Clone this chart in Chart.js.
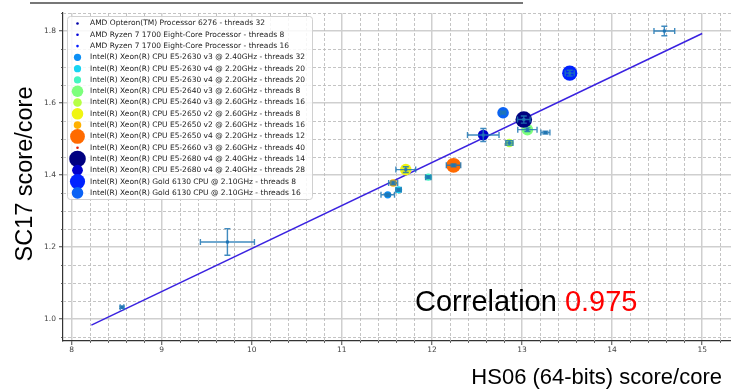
<!DOCTYPE html>
<html>
<head>
<meta charset="utf-8">
<script src="https://cdn.jsdelivr.net/npm/chart.js@4.4.1/dist/chart.umd.min.js"></script>
<style>
  html, body { margin: 0; padding: 0; background: #fff; }
  #wrap { width: 731px; height: 391px; position: relative; }
</style>
</head>
<body>
<div id="wrap"><canvas id="corrChart"></canvas></div>
<script>
// CPU models, in legend order
const cpuLabels = [
    "AMD Opteron(TM) Processor 6276 - threads 32",
    "AMD Ryzen 7 1700 Eight-Core Processor - threads 8",
    "AMD Ryzen 7 1700 Eight-Core Processor - threads 16",
    "Intel(R) Xeon(R) CPU E5-2630 v3 @ 2.40GHz - threads 32",
    "Intel(R) Xeon(R) CPU E5-2630 v4 @ 2.20GHz - threads 20",
    "Intel(R) Xeon(R) CPU E5-2630 v4 @ 2.20GHz - threads 20",
    "Intel(R) Xeon(R) CPU E5-2640 v3 @ 2.60GHz - threads 8",
    "Intel(R) Xeon(R) CPU E5-2640 v3 @ 2.60GHz - threads 16",
    "Intel(R) Xeon(R) CPU E5-2650 v2 @ 2.60GHz - threads 8",
    "Intel(R) Xeon(R) CPU E5-2650 v2 @ 2.60GHz - threads 16",
    "Intel(R) Xeon(R) CPU E5-2650 v4 @ 2.20GHz - threads 12",
    "Intel(R) Xeon(R) CPU E5-2660 v3 @ 2.60GHz - threads 40",
    "Intel(R) Xeon(R) CPU E5-2680 v4 @ 2.40GHz - threads 14",
    "Intel(R) Xeon(R) CPU E5-2680 v4 @ 2.40GHz - threads 28",
    "Intel(R) Xeon(R) Gold 6130 CPU @ 2.10GHz - threads 8",
    "Intel(R) Xeon(R) Gold 6130 CPU @ 2.10GHz - threads 16"
];
const hs06PerCore = [8.56, 14.58, 9.73, 11.51, 11.63, 11.96, 13.06, 12.86, 11.71, 11.57, 12.24, 13.26, 13.02, 12.57, 13.53, 12.79];
const sc17PerCore = [1.033, 1.800, 1.214, 1.345, 1.359, 1.394, 1.526, 1.489, 1.415, 1.378, 1.427, 1.518, 1.554, 1.511, 1.683, 1.573];
const hs06Err = [0.02, 0.115, 0.30, 0.075, 0.03, 0.03, 0.107, 0.04, 0.11, 0.05, 0.08, 0.05, 0.07, 0.175, 0.05, 0.03];
const sc17Err = [0.003, 0.013, 0.037, 0.004, 0.004, 0.004, 0.005, 0.006, 0.008, 0.005, 0.004, 0.004, 0.01, 0.018, 0.008, 0.004];
const markerRadius = [1.3, 1.3, 1.3, 3.6, 3.6, 3.6, 5.8, 4.3, 5.8, 3.8, 7.4, 1.3, 8.3, 5.4, 7.6, 5.8];
const markerColors = ['#0000a8', '#0000d8', '#0018ff', '#0c8ff5', '#16d4f2', '#44f5c0', '#7cff7c', '#b5ff45',
                      '#f0f511', '#ffb000', '#ff6a00', '#e61a00', '#000080', '#0000cc', '#0022ff', '#0a62f5'];

// fitted line end points
const fitHs06 = [8.22, 15.0];
const fitSc17 = [0.983, 1.793];
const correlation = 0.975;

const xTicks = [8, 9, 10, 11, 12, 13, 14, 15];
const yTicks = [1.0, 1.2, 1.4, 1.6, 1.8];

const sans = '"Liberation Sans", Arial, sans-serif';
const dejavu = '"DejaVu Sans", sans-serif';

// dashed minor grid + minor tick marks
const minorGrid = {
    id: 'minorGrid',
    beforeDatasetsDraw(chart) {
        const { ctx, chartArea: a, scales: { x, y } } = chart;
        ctx.save();
        ctx.strokeStyle = '#bdbdbd';
        ctx.lineWidth = 0.9;
        ctx.setLineDash([3, 2]);
        for (let i = Math.ceil(x.min / 0.2); i * 0.2 <= x.max + 1e-9; i++) {
            if (i % 5 === 0) continue;
            const px = Math.round(x.getPixelForValue(i * 0.2)) + 0.5;
            ctx.beginPath(); ctx.moveTo(px, a.top); ctx.lineTo(px, a.bottom); ctx.stroke();
        }
        for (let i = Math.ceil(y.min / 0.05 - 1e-9); i * 0.05 <= y.max + 1e-9; i++) {
            if (i % 4 === 0) continue;
            const py = Math.round(y.getPixelForValue(i * 0.05)) + 0.5;
            ctx.beginPath(); ctx.moveTo(a.left, py); ctx.lineTo(a.right, py); ctx.stroke();
        }
        ctx.setLineDash([]);
        ctx.strokeStyle = '#444';
        ctx.lineWidth = 0.8;
        for (let i = Math.ceil(x.min / 0.2); i * 0.2 <= x.max + 1e-9; i++) {
            if (i % 5 === 0) continue;
            const px = Math.round(x.getPixelForValue(i * 0.2)) + 0.5;
            ctx.beginPath(); ctx.moveTo(px, a.bottom); ctx.lineTo(px, a.bottom + 2); ctx.stroke();
        }
        for (let i = Math.ceil(y.min / 0.05 - 1e-9); i * 0.05 <= y.max + 1e-9; i++) {
            if (i % 4 === 0) continue;
            const py = Math.round(y.getPixelForValue(i * 0.05)) + 0.5;
            ctx.beginPath(); ctx.moveTo(a.left, py); ctx.lineTo(a.left - 2, py); ctx.stroke();
        }
        ctx.restore();
    }
};

const errorBars = {
    id: 'errorBars',
    afterDatasetsDraw(chart) {
        const { ctx, scales: { x, y } } = chart;
        ctx.save();
        ctx.strokeStyle = 'rgba(31,119,180,0.85)';
        ctx.fillStyle = 'rgba(31,119,180,0.9)';
        ctx.lineWidth = 1.4;
        hs06PerCore.forEach((v, i) => {
            const cx = x.getPixelForValue(v), cy = y.getPixelForValue(sc17PerCore[i]);
            const x0 = x.getPixelForValue(v - hs06Err[i]), x1 = x.getPixelForValue(v + hs06Err[i]);
            const y0 = y.getPixelForValue(sc17PerCore[i] - sc17Err[i]), y1 = y.getPixelForValue(sc17PerCore[i] + sc17Err[i]);
            ctx.beginPath();
            ctx.moveTo(x0, cy); ctx.lineTo(x1, cy);
            ctx.moveTo(cx, y0); ctx.lineTo(cx, y1);
            ctx.moveTo(x0, cy - 3); ctx.lineTo(x0, cy + 3);
            ctx.moveTo(x1, cy - 3); ctx.lineTo(x1, cy + 3);
            ctx.moveTo(cx - 3, y0); ctx.lineTo(cx + 3, y0);
            ctx.moveTo(cx - 3, y1); ctx.lineTo(cx + 3, y1);
            ctx.stroke();
            ctx.fillRect(cx - 1.5, cy - 1.5, 3, 3);
        });
        ctx.restore();
    }
};

// legend box, annotation and axis titles
const decorations = {
    id: 'decorations',
    afterDraw(chart) {
        const ctx = chart.ctx;
        ctx.save();
        // remnant of the cut-off heading
        ctx.fillStyle = '#777';
        ctx.fillRect(30, 2, 493, 2);

        // legend
        ctx.fillStyle = 'rgba(255,255,255,0.85)';
        ctx.strokeStyle = '#d0d0d0';
        ctx.lineWidth = 1;
        ctx.beginPath();
        ctx.roundRect(67.5, 16.5, 245, 183, 3);
        ctx.fill(); ctx.stroke();
        ctx.font = '7.5px ' + dejavu;
        ctx.textBaseline = 'middle';
        ctx.textAlign = 'left';
        cpuLabels.forEach((label, i) => {
            const cy = 23.5 + i * 11.29;
            ctx.fillStyle = markerColors[i];
            ctx.beginPath();
            ctx.arc(77.5, cy, markerRadius[i], 0, Math.PI * 2);
            ctx.fill();
            ctx.fillStyle = '#222';
            ctx.fillText(label, 90, cy);
        });

        // correlation annotation
        ctx.font = '29px ' + sans;
        ctx.textBaseline = 'alphabetic';
        ctx.fillStyle = '#000';
        const head = 'Correlation ';
        ctx.fillText(head, 415, 311);
        ctx.fillStyle = '#ff0000';
        ctx.fillText(correlation.toFixed(3), 415 + ctx.measureText(head).width, 311);

        // axis titles
        ctx.fillStyle = '#000';
        ctx.font = '22px ' + sans;
        ctx.textAlign = 'right';
        ctx.fillText('HS06 (64-bits) score/core', 722, 384);
        ctx.font = '23.5px ' + sans;
        ctx.textAlign = 'center';
        ctx.translate(32, 174);
        ctx.rotate(-Math.PI / 2);
        ctx.fillText('SC17 score/core', 0, 0);
        ctx.restore();
    }
};

const pointSets = cpuLabels.map((label, i) => ({
    label: label,
    data: [{ x: hs06PerCore[i], y: sc17PerCore[i] }],
    backgroundColor: markerColors[i],
    borderWidth: 0,
    pointRadius: markerRadius[i],
    pointHoverRadius: markerRadius[i],
    order: cpuLabels.length - i
}));

const fitLine = {
    label: 'fit',
    data: fitHs06.map((v, i) => ({ x: v, y: fitSc17[i] })),
    showLine: true,
    borderColor: '#3a22e0',
    borderWidth: 1.5,
    pointRadius: 0,
    fill: false,
    order: 100
};

const tickFont = { family: dejavu, size: 7.5 };

new Chart(document.getElementById('corrChart'), {
    type: 'scatter',
    data: { datasets: [fitLine, ...pointSets] },
    options: {
        responsive: true,
        maintainAspectRatio: false,
        animation: false,
        events: [],
        layout: { autoPadding: false, padding: { top: 13, right: 0, left: 0, bottom: 0 } },
        plugins: { legend: { display: false }, tooltip: { enabled: false } },
        scales: {
            x: {
                type: 'linear',
                min: 7.905,
                max: 15.32,
                afterBuildTicks: s => { s.ticks = xTicks.map(v => ({ value: v })); },
                afterFit: s => { s.height = 50; s.paddingLeft = 0; s.paddingRight = 0; },
                ticks: { font: tickFont, color: '#444', padding: 1, callback: v => String(v) },
                grid: { color: '#cfcfcf', lineWidth: 1.5, tickColor: '#444', tickLength: 4, tickWidth: 1 },
                border: { color: '#333', width: 1.2 }
            },
            y: {
                type: 'linear',
                min: 0.939,
                max: 1.85,
                afterBuildTicks: s => { s.ticks = yTicks.map(v => ({ value: v })); },
                afterFit: s => { s.width = 63; s.paddingTop = 0; s.paddingBottom = 0; },
                ticks: { font: tickFont, color: '#444', padding: 3, callback: v => v.toFixed(1) },
                grid: { color: '#cfcfcf', lineWidth: 1.5, tickColor: '#444', tickLength: 4, tickWidth: 1 },
                border: { color: '#333', width: 1.2 }
            }
        }
    },
    plugins: [minorGrid, errorBars, decorations]
});
</script>
</body>
</html>
